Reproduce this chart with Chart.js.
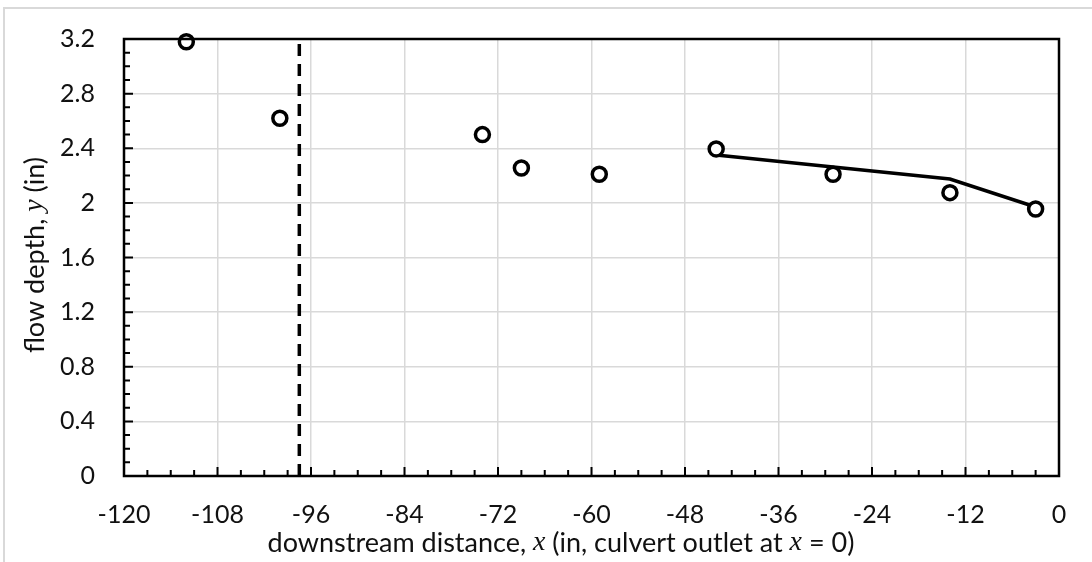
<!DOCTYPE html>
<html>
<head>
<meta charset="utf-8">
<script src="https://cdn.jsdelivr.net/npm/chart.js@4.4.1/dist/chart.umd.min.js"></script>
<style>
  html, body { margin: 0; padding: 0; background: #fff; }
  #wrap { width: 1092px; height: 562px; }
</style>
</head>
<body>
<div id="wrap"><canvas id="flow" width="1092" height="562"></canvas></div>
<script>
// measured depths (open circles)
const obsX = [-112, -100, -74, -69, -59, -44, -29, -14, -3];
const obsY = [3.18, 2.62, 2.50, 2.255, 2.21, 2.395, 2.21, 2.075, 1.955];

// computed profile (solid line)
const profX = [-44, -14, -3];
const profY = [2.35, 2.175, 1.97];

// dashed marker
const markX = -97.5;
const markY = [0, 3.2];

const xTicks = [-120, -108, -96, -84, -72, -60, -48, -36, -24, -12, 0];
const yTicks = [0, 0.4, 0.8, 1.2, 1.6, 2, 2.4, 2.8, 3.2];

const FONT = 'Lato';

const frame = {
    id: 'frame',
    beforeDraw(chart) {
        const ctx = chart.ctx;
        ctx.save();
        ctx.strokeStyle = '#d9d9d9';
        ctx.lineWidth = 2;
        ctx.beginPath();
        ctx.moveTo(4, 562);
        ctx.lineTo(4, 8);
        ctx.lineTo(1092, 8);
        ctx.stroke();
        ctx.restore();
    },
    afterDraw(chart) {
        const ctx = chart.ctx;
        const a = chart.chartArea;
        const xs = chart.scales.x, ys = chart.scales.y;
        ctx.save();
        ctx.strokeStyle = '#000';
        ctx.lineWidth = 2.5;
        ctx.strokeRect(a.left, a.top, a.right - a.left, a.bottom - a.top);

        // inward tick marks
        ctx.lineWidth = 2;
        ctx.beginPath();
        for (let v = -120; v <= 0; v += 3) {
            const px = xs.getPixelForValue(v);
            const len = (v % 12 === 0) ? 9 : 6;
            ctx.moveTo(px, a.bottom);
            ctx.lineTo(px, a.bottom - len);
        }
        for (let i = 0; i <= 32; i++) {
            const py = ys.getPixelForValue(i / 10);
            const len = (i % 4 === 0) ? 9 : 6;
            ctx.moveTo(a.left, py);
            ctx.lineTo(a.left + len, py);
        }
        ctx.stroke();

        // axis titles with italic variable names
        const normal = '27px ' + FONT;
        const ital = 'italic 28px "Liberation Serif"';
        drawParts(ctx, [
            ['downstream distance, ', normal], ['x', ital],
            [' (in, culvert outlet at ', normal], ['x', ital], [' = 0)', normal]
        ], 561, 543, 0);
        drawParts(ctx, [
            ['flow depth, ', normal], ['y', ital], [' (in)', normal]
        ], 35, 255, -Math.PI / 2);
        ctx.restore();
    }
};

function drawParts(ctx, parts, cx, cy, rot) {
    let total = 0;
    for (const p of parts) {
        ctx.font = p[1];
        total += ctx.measureText(p[0]).width;
    }
    ctx.save();
    ctx.translate(cx, cy);
    ctx.rotate(rot);
    ctx.fillStyle = '#111';
    ctx.textBaseline = 'middle';
    ctx.textAlign = 'left';
    let x = -total / 2;
    for (const p of parts) {
        ctx.font = p[1];
        ctx.fillText(p[0], x, 0);
        x += ctx.measureText(p[0]).width;
    }
    ctx.restore();
}

function noPad(s) {
    s.paddingTop = 0;
    s.paddingBottom = 0;
    s.paddingLeft = 0;
    s.paddingRight = 0;
}

const ctx = document.getElementById('flow').getContext('2d');
const flowChart = new Chart(ctx, {
    type: 'scatter',
    data: {
        datasets: [{
            label: 'measured',
            data: obsX.map((x, i) => ({ x: x, y: obsY[i] })),
            showLine: false,
            pointStyle: 'circle',
            pointRadius: 7,
            pointBorderWidth: 3.5,
            pointBackgroundColor: '#fff',
            pointBorderColor: '#000',
            clip: false
        }, {
            label: 'profile',
            data: profX.map((x, i) => ({ x: x, y: profY[i] })),
            showLine: true,
            borderColor: '#000',
            borderWidth: 3.5,
            pointRadius: 0
        }, {
            label: 'marker',
            data: markY.map(y => ({ x: markX, y: y })),
            showLine: true,
            borderColor: '#000',
            borderWidth: 3.5,
            borderDash: [12, 8],
            pointRadius: 0
        }]
    },
    options: {
        responsive: false,
        animation: false,
        devicePixelRatio: 1,
        layout: { padding: { top: 39, right: 33, left: 0, bottom: 0 } },
        plugins: {
            legend: { display: false },
            tooltip: { enabled: false }
        },
        scales: {
            x: {
                type: 'linear',
                min: -120,
                max: 0,
                afterBuildTicks: s => { s.ticks = xTicks.map(v => ({ value: v })); },
                afterFit: s => { s.height = 86; noPad(s); },
                grid: { color: '#d9d9d9', lineWidth: 1.5, drawTicks: false },
                border: { display: false },
                ticks: {
                    padding: 24,
                    color: '#111',
                    font: { family: FONT, size: 25 },
                    maxRotation: 0
                }
            },
            y: {
                type: 'linear',
                min: 0,
                max: 3.2,
                afterBuildTicks: s => { s.ticks = yTicks.map(v => ({ value: v })); },
                afterFit: s => { s.width = 124; noPad(s); },
                grid: { color: '#d9d9d9', lineWidth: 1.5, drawTicks: false },
                border: { display: false },
                ticks: {
                    padding: 29,
                    color: '#111',
                    font: { family: FONT, size: 25 },
                    callback: v => String(+v.toFixed(1))
                }
            }
        }
    },
    plugins: [frame]
});
</script>
</body>
</html>
